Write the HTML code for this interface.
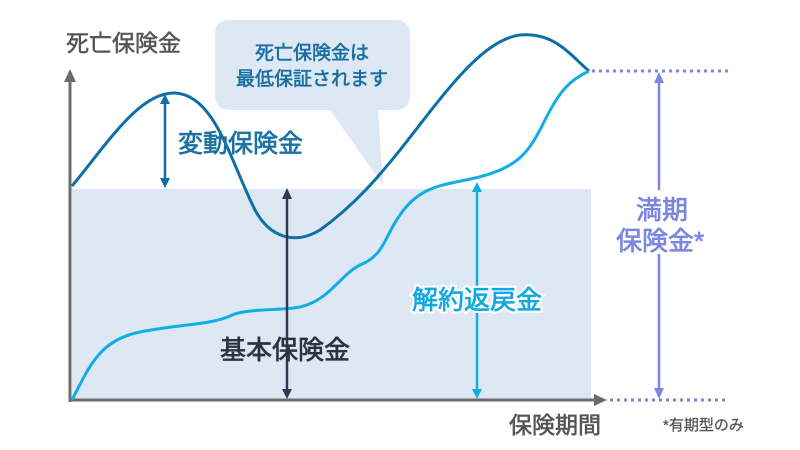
<!DOCTYPE html>
<html><head><meta charset="utf-8"><style>
html,body{margin:0;padding:0;background:#fff;width:800px;height:450px;overflow:hidden}
svg text{font-family:"Liberation Sans","Noto Sans CJK JP",sans-serif}
</style></head><body>
<svg width="800" height="450" viewBox="0 0 800 450" xmlns="http://www.w3.org/2000/svg">
<rect x="72" y="189" width="519" height="211" fill="#dde8f4"/>
<line x1="70" y1="80" x2="70" y2="402" stroke="#6f6b6b" stroke-width="3"/>
<polygon points="64,82 76,82 70,69" fill="#6f6b6b"/>
<line x1="70" y1="400" x2="596" y2="400" stroke="#6f6b6b" stroke-width="3"/>
<polygon points="594,394 594,406 607,400" fill="#6f6b6b"/>
<line x1="592" y1="71" x2="732" y2="71" stroke="#7b86e0" stroke-width="3" stroke-dasharray="3,4"/>
<line x1="610" y1="400" x2="728" y2="400" stroke="#7b86e0" stroke-width="3" stroke-dasharray="3,4"/>
<path d="M230,20 H395 Q410,20 410,35 V95 Q410,110 395,110 H378 L383,185 L330,110 H230 Q215,110 215,95 V35 Q215,20 230,20 Z" fill="#dde8f4"/>
<text x="312" y="59" font-size="19" fill="#1a6fa0" stroke="#1a6fa0" stroke-width="0.6" text-anchor="middle">死亡保険金は</text>
<text x="312" y="85" font-size="19" fill="#1a6fa0" stroke="#1a6fa0" stroke-width="0.6" text-anchor="middle">最低保証されます</text>
<path d="M72,186 C110,140 140,92 175,93 C215,95 230,160 255,210 C270,238 295,245 320,230 C355,205 380,175 400,150 C440,100 480,40 520,35 C555,32 570,55 589,71" fill="none" stroke="#0d6fa5" stroke-width="3"/>
<path d="M72,400 C90,365 100,340 140,332 C180,324 210,325 230,316 C245,308 280,311 300,307 C330,300 340,275 360,265 C385,255 385,235 400,215 C420,185 445,185 475,178 C520,168 530,150 545,120 C560,90 570,80 589,71" fill="none" stroke="#12ace6" stroke-width="3"/>
<g stroke="#0d6fa5" stroke-width="2.5" fill="#0d6fa5">
<line x1="165" y1="100" x2="165" y2="182"/>
<polygon points="160,104 170,104 165,94" stroke="none"/>
<polygon points="160,178 170,178 165,188" stroke="none"/>
</g>
<g stroke="#2a3a50" stroke-width="2.5" fill="#2a3a50">
<line x1="287" y1="195" x2="287" y2="393"/>
<polygon points="282,199 292,199 287,188" stroke="none"/>
<polygon points="282,389 292,389 287,399" stroke="none"/>
</g>
<g stroke="#12ace6" stroke-width="2.5" fill="#12ace6">
<line x1="477" y1="188" x2="477" y2="393"/>
<polygon points="472,192 482,192 477,182" stroke="none"/>
<polygon points="472,389 482,389 477,399" stroke="none"/>
</g>
<g stroke="#7b86e0" stroke-width="2.5" fill="#7b86e0">
<line x1="659" y1="80" x2="659" y2="190"/>
<line x1="659" y1="254" x2="659" y2="392"/>
<polygon points="654,83 664,83 659,72" stroke="none"/>
<polygon points="654,388 664,388 659,399" stroke="none"/>
</g>
<text x="66" y="51" font-size="23" fill="#555" stroke="#555" stroke-width="0.5">死亡保険金</text>
<text x="178" y="152" font-size="25" fill="#1a72a6" stroke="#1a72a6" stroke-width="0.7">変動保険金</text>
<text x="220" y="359" font-size="26" fill="#2a3340" stroke="#2a3340" stroke-width="0.7">基本保険金</text>
<text x="412" y="309" font-size="26" fill="#fff" stroke="#fff" stroke-width="5">解約返戻金</text>
<text x="412" y="309" font-size="26" fill="#12a8e0" stroke="#12a8e0" stroke-width="0.7">解約返戻金</text>
<text x="662" y="219" font-size="26" fill="#7b86e0" stroke="#7b86e0" stroke-width="0.7" text-anchor="middle">満期</text>
<text x="616" y="250" font-size="26" fill="#7b86e0" stroke="#7b86e0" stroke-width="0.7">保険金*</text>
<text x="509" y="433" font-size="23" fill="#555" stroke="#555" stroke-width="0.6">保険期間</text>
<text x="663" y="430" font-size="15" fill="#555" stroke="#555" stroke-width="0.3">*有期型のみ</text>
</svg>
</body></html>
